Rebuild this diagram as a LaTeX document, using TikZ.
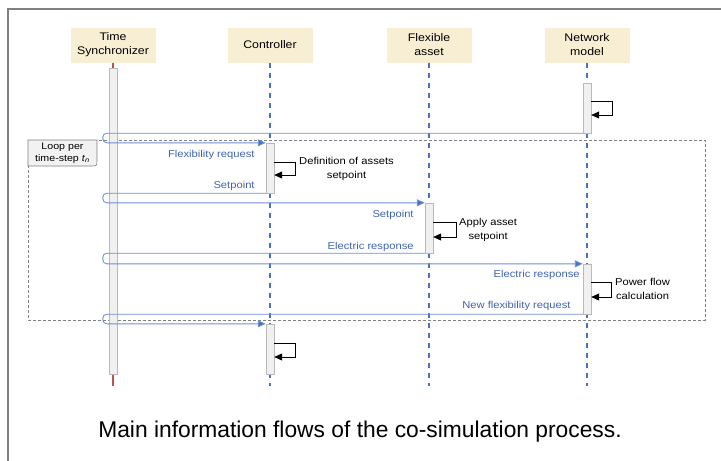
\documentclass[tikz,border=0pt]{standalone}
\usepackage{fontspec}
\setmainfont{Liberation Sans}
\newfontfamily\diagfont{Liberation Sans}[FakeStretch=1.12]
\usepackage{tikz}
\usetikzlibrary{positioning,arrows.meta}

\definecolor{lifeblue}{RGB}{68,114,196}
\definecolor{msgblue}{RGB}{112,142,210}
\definecolor{lblblue}{RGB}{63,98,180}
\definecolor{headfill}{RGB}{247,238,212}
\definecolor{barfill}{RGB}{240,240,240}
\definecolor{bargray}{RGB}{185,185,185}
\definecolor{tagfill}{RGB}{242,242,242}
\definecolor{tsred}{RGB}{192,80,77}
\definecolor{framegray}{RGB}{128,128,128}

\begin{document}
\begin{tikzpicture}[%
x=1pt, y=-1pt,%
head/.style={fill=headfill, minimum width=85pt, minimum height=35pt, align=center, inner sep=1pt, font=\diagfont\fontsize{11}{14}\selectfont},%
actbar/.style={draw=bargray, fill=barfill, minimum width=8pt, minimum height=50pt, inner sep=0pt},%
lifeline/.style={lifeblue, line width=1.2pt, dash pattern=on 5pt off 5pt},%
msg/.style={-{Triangle[length=8pt,width=7pt,fill=lifeblue]}, msgblue, line width=0.9pt, rounded corners=4pt},%
selfcall/.style={-{Triangle[length=8pt,width=7pt,fill=black]}, black, line width=0.8pt},%
lbl/.style={text=lblblue, inner sep=1pt, font=\diagfont\fontsize{10}{12}\selectfont},%
note/.style={align=center, inner sep=1pt, font=\diagfont\fontsize{10}{14}\selectfont},%
]
\useasboundingbox (0,0) rectangle (721,461);

% outer frame
\draw[framegray, line width=1.5pt] (8,461) |- (721,9);

% participants
\node[head] (ts) at (113,45) {Time\\Synchronizer};
\node[head] (ct) at (270,45) {Controller};
\node[head] (fa) at (429,45) {Flexible\\asset};
\node[head] (nm) at (587,45) {Network\\model};

\coordinate (tsend) at (113,386);
\coordinate (ctend) at (270,386);
\coordinate (faend) at (429,386);
\coordinate (nmend) at (587,386);

% lifelines
\draw[tsred, line width=1.2pt] (ts.south) -- (tsend);
\draw[lifeline] (ct.south) -- (ctend);
\draw[lifeline] (fa.south) -- (faend);
\draw[lifeline] (nm.south) -- (nmend);

% loop frame
\draw[framegray, densely dashed, line width=0.7pt] (28,140) rectangle (705,320);
\coordinate (tagnw) at (28,140);
\coordinate (tagse) at (97,166);
\draw[framegray, fill=tagfill, line width=0.6pt] (tagnw) -- (tagnw -| tagse) -- ([yshift=6pt]tagse) .. controls (tagse) .. ([xshift=-6pt]tagse) -- (tagnw |- tagse) -- cycle;
\node[align=center, inner sep=0pt, font=\diagfont\fontsize{9.5}{12}\selectfont] (looptag) at (62.5,153) {Loop per\\time-step \textit{t}\textsubscript{\textit{n}}};

% activation bars
\node[actbar, minimum height=306pt] (tsbar) at (113,221) {};
\node[actbar] (nmbar1) at (587,108) {};
\node[actbar] (ctbar1) at (270,168) {};
\node[actbar] (fabar) at (429,228) {};
\node[actbar] (nmbar2) at (587,289) {};
\node[actbar] (ctbar2) at (270,349) {};

% messages
\draw[msg] (nmbar1.south west) -- ([xshift=-6pt]tsbar.west |- nmbar1.south) -- ([xshift=-6pt]tsbar.west |- ctbar1.north) -- (ctbar1.north west);
\draw[msg] (ctbar1.south west) -- ([xshift=-6pt]tsbar.west |- ctbar1.south) -- ([xshift=-6pt]tsbar.west |- fabar.north) -- (fabar.north west);
\draw[msg] (fabar.south west) -- ([xshift=-6pt]tsbar.west |- fabar.south) -- ([xshift=-6pt]tsbar.west |- nmbar2.north) -- (nmbar2.north west);
\draw[msg] (nmbar2.south west) -- ([xshift=-6pt]tsbar.west |- nmbar2.south) -- ([xshift=-6pt]tsbar.west |- ctbar2.north) -- (ctbar2.north west);

\node[lbl, anchor=east] (flexreq) at ([xshift=-10pt, yshift=-12pt]ctbar1.north west) {Flexibility request};
\node[lbl, anchor=east] (setpt1) at ([xshift=-10pt, yshift=7pt]ctbar1.south west) {Setpoint};
\node[lbl, anchor=east] (setpt2) at ([xshift=-10pt, yshift=-12pt]fabar.north west) {Setpoint};
\node[lbl, anchor=east] (elresp1) at ([xshift=-10pt, yshift=6pt]fabar.south west) {Electric response};
\node[lbl, anchor=east] (elresp2) at ([xshift=-2pt, yshift=-11pt]nmbar2.north west) {Electric response};
\node[lbl, anchor=east] (newreq) at ([xshift=-11pt, yshift=8pt]nmbar2.south west) {New flexibility request};

% self calls
\draw[selfcall] (nmbar1.east |- 0,101) -- ++(21,0) -- ++(0,14) -- (nmbar1.east |- 0,115);
\draw[selfcall] (ctbar1.east |- 0,162) -- ++(21,0) -- ++(0,13) -- (ctbar1.east |- 0,175);
\draw[selfcall] (fabar.east |- 0,222) -- ++(23,0) -- ++(0,15) -- (fabar.east |- 0,237);
\draw[selfcall] (nmbar2.east |- 0,282) -- ++(20,0) -- ++(0,15) -- (nmbar2.east |- 0,297);
\draw[selfcall] (ctbar2.east |- 0,343) -- ++(21,0) -- ++(0,14) -- (ctbar2.east |- 0,357);

\node[note, anchor=west] (defnote) at (298,169) {Definition of assets\\setpoint};
\node[note, anchor=west] (applynote) at (458,230) {Apply asset\\setpoint};
\node[note, anchor=west] (pfnote) at (614,289) {Power flow\\calculation};

% caption
\node[font=\fontsize{22.8}{26}\selectfont] (caption) at (360,432) {Main information flows of the co-simulation process.};
\end{tikzpicture}
\end{document}
